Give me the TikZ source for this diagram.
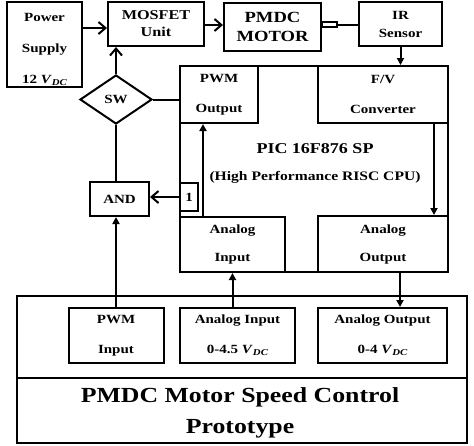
\documentclass[tikz,border=0pt]{standalone}
\usepackage{fontspec}
\setmainfont{Liberation Serif}[FakeStretch=1.2]
\usetikzlibrary{arrows.meta,shapes.geometric}
\newcommand{\vdc}{\textit{V}\raisebox{-0.35ex}{\fontsize{9}{9}\selectfont\textit{DC}}}
\newcommand{\fs}[2]{\fontsize{#1}{#2}\selectfont}
\begin{document}
\begin{tikzpicture}[x=1pt,y=-1pt,
  box/.style={draw, line width=2pt, inner sep=0pt, align=center, font=\bfseries\fs{12.5}{30}},
  ob/.style={line width=2pt, -{Straight Barb[length=7pt,width=12pt]}},
  fa/.style={line width=2pt, -{Triangle[length=7pt,width=7pt]}},
  ln/.style={line width=2pt}]
\useasboundingbox (0,0) rectangle (474,445);
% top row
\node[box, minimum width=75pt, minimum height=85pt] (ps) at (44.5,44.5) {};
\node[align=center, font=\bfseries\fs{12.5}{31}] (pstxt) at (44.5,49) {Power\\Supply\\12 \vdc};
\node[box, minimum width=96pt, minimum height=44pt, font=\bfseries\fs{13.5}{17}] (mos) at (156,24) {MOSFET\\Unit};
\node[box, minimum width=97pt, minimum height=48pt, font=\bfseries\fs{15.5}{19}] (pmdc) at (272.5,27) {PMDC\\MOTOR};
\node[draw, line width=1.3pt, minimum width=15pt, minimum height=5pt, inner sep=0pt] (shaft) at (329.5,24.5) {};
\node[box, minimum width=83pt, minimum height=44pt, font=\bfseries\fs{12.5}{18}] (ir) at (400.5,24) {IR\\Sensor};
% PIC block
\node[box, minimum width=268pt, minimum height=206pt] (pic) at (314,169) {};
\node[box, minimum width=78pt, minimum height=57pt] (pwmo) at (219,94.5) {PWM\\Output};
\node[box, minimum width=130pt, minimum height=57pt] (fv) at (383,94.5) {F/V\\Converter};
\node[box, minimum width=105pt, minimum height=55pt, font=\bfseries\fs{12.5}{28}] (ain) at (232.5,244.5) {Analog\\Input};
\node[box, minimum width=130pt, minimum height=56pt, font=\bfseries\fs{12.5}{28}] (aout) at (383,244) {Analog\\Output};
\node[align=center, font=\bfseries\fs{15}{27}] (pictxt) at (315,163) {PIC 16F876 SP\\{\fs{13}{27}(High Performance RISC CPU)}};
\node[box, line width=1.5pt, minimum width=18pt, minimum height=28pt] (one) at (189,197) {1};
% SW and AND
\node[draw, diamond, line width=2pt, minimum width=72pt, minimum height=49pt, inner sep=0pt, font=\bfseries\fs{12.5}{15}] (sw) at (116,99.5) {SW};
\node[box, minimum width=59pt, minimum height=34pt] (and) at (119.5,199) {AND};
% prototype
\node[box, minimum width=450pt, minimum height=147pt] (proto) at (242,369.5) {};
\draw[ln] (proto.west |- 0,378) -- (proto.east |- 0,378);
\node[align=center, font=\bfseries\fs{21.5}{31}] (title) at (240,413) {PMDC Motor Speed Control\\Prototype};
\node[box, minimum width=95pt, minimum height=55pt] (pin) at (116,335.5) {PWM\\Input};
\node[box, minimum width=115pt, minimum height=55pt] (ain2) at (237.5,335.5) {Analog Input\\0-4.5 \vdc};
\node[box, minimum width=129pt, minimum height=55pt] (aout2) at (382.5,335.5) {Analog Output\\0-4 \vdc};
% connectors
\draw[ob] (ps.east |- 0,28) -- (mos.west |- 0,28);
\draw[ob] (mos.east |- 0,25) -- (pmdc.west |- 0,25);
\draw[ln] (shaft.east) -- (shaft.east -| ir.west);
\draw[fa] (ir.south) -- (ir.south |- fv.north);
\draw[ob] (sw.north) -- (sw.north |- mos.south);
\draw[ln] (sw.east) -- (sw.east -| pwmo.west);
\draw[ln] (sw.south) -- (sw.south |- and.north);
\draw[ob] (one.west) -- (one.west -| and.east);
\draw[fa] (pin.north) -- (pin.north |- and.south);
\draw[fa] (ain.south |- ain2.north) -- (ain.south);
\draw[fa] ([xshift=17pt]aout.south) -- ([xshift=17pt]aout.south |- aout2.north);
\draw[fa] ([xshift=-16pt]pwmo.south |- ain.north) -- ([xshift=-16pt]pwmo.south);
\draw[fa] ([xshift=51pt]fv.south) -- ([xshift=51pt]fv.south |- aout.north);
\end{tikzpicture}
\end{document}
